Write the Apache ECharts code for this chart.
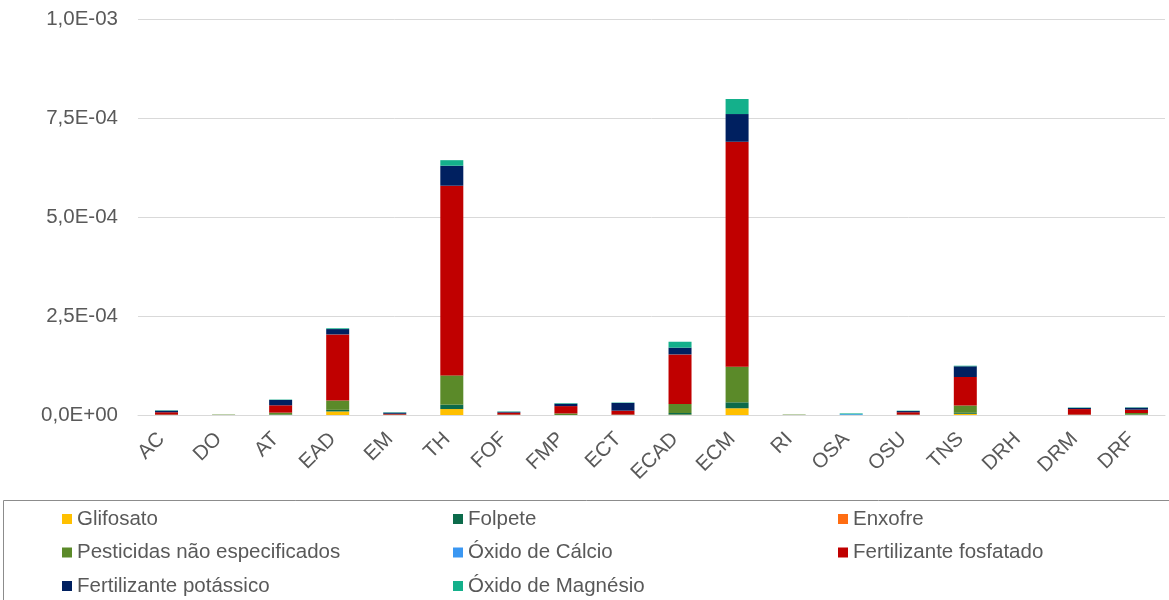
<!DOCTYPE html>
<html>
<head>
<meta charset="utf-8">
<title>Contribuição por substância</title>
<script src="https://cdn.jsdelivr.net/npm/echarts@6/dist/echarts.min.js"></script>
<style>
  html, body { margin: 0; padding: 0; background: #ffffff; }
  #chart { width: 1169px; height: 600px; }
</style>
</head>
<body>
<div id="chart"></div>
<script>
// Categories (processes) along the x axis
const categories = ['AC', 'DO', 'AT', 'EAD', 'EM', 'TH', 'FOF', 'FMP', 'ECT', 'ECAD', 'ECM', 'RI', 'OSA', 'OSU', 'TNS', 'DRH', 'DRM', 'DRF'];

// Stacked contributions, bottom to top
const glifosato      = [0, 0, 0, 9e-6, 0, 1.5e-5, 0, 0, 0, 1e-6, 1.7e-5, 0, 0, 0, 3e-6, 0, 0, 0];
const folpete        = [0, 0, 1e-6, 4e-6, 0, 1.1e-5, 0, 0, 0, 4e-6, 1.5e-5, 0, 0, 0, 2.5e-6, 0, 0, 1e-6];
const enxofre        = [0, 0, 0, 0, 0, 0, 0, 0, 0, 0, 0, 0, 0, 0, 0, 0, 0, 0];
const pesticidas     = [1e-6, 1e-6, 5e-6, 2.35e-5, 1e-6, 7.4e-5, 1e-6, 4e-6, 1e-6, 2.3e-5, 9.0e-5, 1e-6, 0, 1e-6, 1.85e-5, 0, 1e-6, 4e-6];
const oxidoCalcio    = [0, 0, 0, 0, 0, 0, 0, 0, 0, 0, 0, 0, 2e-6, 0, 0, 0, 0, 0];
const fertFosfatado  = [6e-6, 0, 1.85e-5, 1.67e-4, 2e-6, 4.79e-4, 5e-6, 1.85e-5, 1e-5, 1.25e-4, 5.68e-4, 0, 0, 6e-6, 7.2e-5, 0, 1.4e-5, 8.5e-6];
const fertPotassico  = [4e-6, 0, 1.35e-5, 1.35e-5, 3e-6, 5.05e-5, 2e-6, 6e-6, 1.95e-5, 1.7e-5, 7.0e-5, 0, 0, 3e-6, 2.7e-5, 0, 3e-6, 5e-6];
const oxidoMagnesio  = [1e-6, 0, 1e-6, 2e-6, 1e-6, 1.4e-5, 1e-6, 1.5e-6, 1e-6, 1.5e-5, 3.8e-5, 0, 2e-6, 1e-6, 1.5e-6, 0, 1e-6, 1e-6];

// Value-axis ticks
const yMin = 0;
const yMax = 1.0e-3;
const yStep = 2.5e-4;

const seriesDefs = [
  { name: 'Glifosato', data: glifosato, color: '#FFC000' },
  { name: 'Folpete', data: folpete, color: '#0C6B4B' },
  { name: 'Enxofre', data: enxofre, color: '#FF6D12' },
  { name: 'Pesticidas não especificados', data: pesticidas, color: '#5B8A29' },
  { name: 'Óxido de Cálcio', data: oxidoCalcio, color: '#3A97F2' },
  { name: 'Fertilizante fosfatado', data: fertFosfatado, color: '#C00000' },
  { name: 'Fertilizante potássico', data: fertPotassico, color: '#002060' },
  { name: 'Óxido de Magnésio', data: oxidoMagnesio, color: '#14B08B' }
];

// "1,0E-03" style scientific labels
function sciLabel(v) {
  if (v === 0) return '0,0E+00';
  const parts = v.toExponential(1).split('e');
  const mant = parts[0].replace('.', ',');
  const exp = parseInt(parts[1], 10);
  const sign = exp < 0 ? '-' : '+';
  const mag = String(Math.abs(exp)).padStart(2, '0');
  return mant + 'E' + sign + mag;
}

const FONT = '"Liberation Sans", Arial, sans-serif';
const TXT = '#595959';

const legendStyle = {
  orient: 'vertical',
  top: 508,
  height: 200,
  padding: 0,
  icon: 'rect',
  itemWidth: 10,
  itemHeight: 10,
  itemGap: 11.5,
  textStyle: { fontFamily: FONT, fontSize: 20.5, color: TXT, lineHeight: 22 }
};

const chart = echarts.init(document.getElementById('chart'), null, { renderer: 'canvas' });

chart.setOption({
  animation: false,
  backgroundColor: '#ffffff',
  color: seriesDefs.map(s => s.color),
  grid: { left: 138, right: 4, top: 19, bottom: 185, containLabel: false },
  legend: [
    Object.assign({}, legendStyle, { left: 62, data: ['Glifosato', 'Pesticidas não especificados', 'Fertilizante potássico'] }),
    Object.assign({}, legendStyle, { left: 453, data: ['Folpete', 'Óxido de Cálcio', 'Óxido de Magnésio'] }),
    Object.assign({}, legendStyle, { left: 838, data: ['Enxofre', 'Fertilizante fosfatado'] })
  ],
  graphic: [
    {
      type: 'rect',
      shape: { x: 3.5, y: 500.5, width: 1180, height: 120 },
      style: { fill: 'none', stroke: '#8c8c8c', lineWidth: 1 },
      silent: true,
      z: -1
    }
  ],
  xAxis: {
    type: 'category',
    data: categories,
    axisLine: { show: true, lineStyle: { color: '#d9d9d9', width: 1 } },
    axisTick: { show: false },
    axisLabel: {
      rotate: 45,
      interval: 0,
      margin: 16,
      padding: [0, 7, 0, 0],
      fontFamily: FONT,
      fontSize: 20.5,
      color: TXT
    }
  },
  yAxis: {
    type: 'value',
    min: yMin,
    max: yMax,
    interval: yStep,
    axisLine: { show: false },
    axisTick: { show: false },
    splitLine: { show: true, lineStyle: { color: '#d9d9d9', width: 1 } },
    axisLabel: {
      margin: 20,
      fontFamily: FONT,
      fontSize: 20.5,
      color: TXT,
      formatter: sciLabel
    }
  },
  series: seriesDefs.map(s => ({
    name: s.name,
    type: 'bar',
    stack: 'total',
    barWidth: 23,
    data: s.data,
    itemStyle: { color: s.color }
  }))
});
</script>
</body>
</html>
